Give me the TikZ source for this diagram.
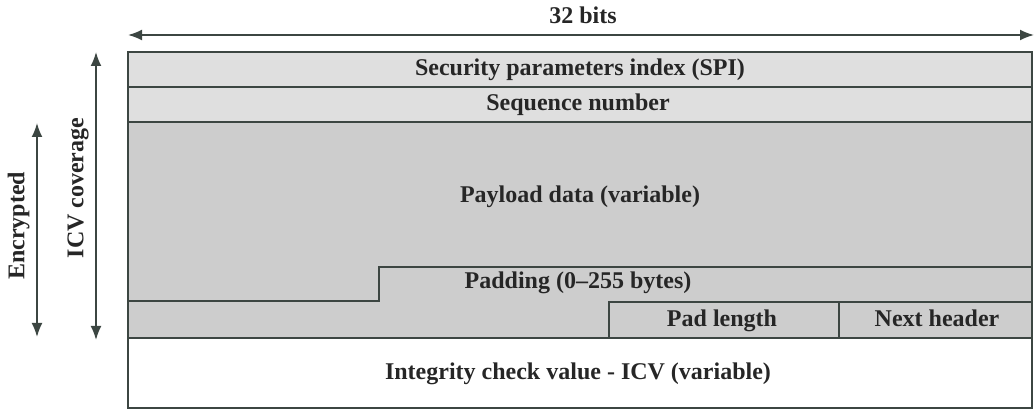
\documentclass[tikz,border=0pt]{standalone}
\usepackage{fontspec}
\setmainfont{Liberation Serif}
\usetikzlibrary{arrows.meta,positioning,calc}
\definecolor{espLine}{HTML}{3C4642}
\definecolor{espLight}{HTML}{DFDFDF}
\definecolor{espShade}{HTML}{CDCDCD}
\definecolor{espText}{HTML}{262626}

\begin{document}
\begin{tikzpicture}[x=1pt,y=-1pt,
  font=\bfseries\fontsize{24}{28}\selectfont,>={Latex[length=14pt,width=11pt]},
  field/.style={draw=espLine,line width=2.8pt},
  lbl/.style={text=espText,inner sep=0pt,text height=0.68em,text depth=0.2em},
  span/.style={<->,espLine,line width=1.8pt}
]
\useasboundingbox (0,0) rectangle (1034,411);
% shaded parts of the header
\fill[espLight] (128,52) rectangle (1032,122);
\fill[espShade] (128,122) rectangle (1032,338);
% field borders
\draw[field] (128,52) rectangle (1032,408);
\draw[field] (128,87) -- (1032,87);
\draw[field] (128,122) -- (1032,122);
\draw[field] (128,301) -- (379,301) -- (379,267) -- (1032,267);
\draw[field] (609,338) -- (609,302) -- (1032,302);
\draw[field] (839,302) -- (839,338);
\draw[field] (128,338) -- (1032,338);
% field names
\node[lbl] (spi)     at (580,73)  {Security parameters index (SPI)};
\node[lbl] (seqnum)  at (578,108) {Sequence number};
\node[lbl] (payload) at (580,200) {Payload data (variable)};
\node[lbl] (padding) at (578,286) {Padding (0--255 bytes)};
\node[lbl] (padlen)  at (722,324) {Pad length};
\node[lbl] (nexthdr) at (937,324) {Next header};
\node[lbl] (icv)     at (578,377) {Integrity check value - ICV (variable)};
% width arrow
\coordinate (bitsL) at (128,35);
\coordinate (bitsR) at (1034,35);
\draw[span] (bitsL) -- (bitsR);
\node[lbl] (bits) at (583,21) {32 bits};
% coverage arrows
\coordinate (icvTop) at (96,52);
\coordinate (icvBot) at (96,340);
\draw[span] (icvTop) -- (icvBot);
\node[lbl,rotate=90] (icvcov) at (81,188) {ICV coverage};
\coordinate (encTop) at (37,123);
\coordinate (encBot) at (37,337);
\draw[span] (encTop) -- (encBot);
\node[lbl,rotate=90] (encr) at (22,226) {Encrypted};
\end{tikzpicture}
\end{document}
